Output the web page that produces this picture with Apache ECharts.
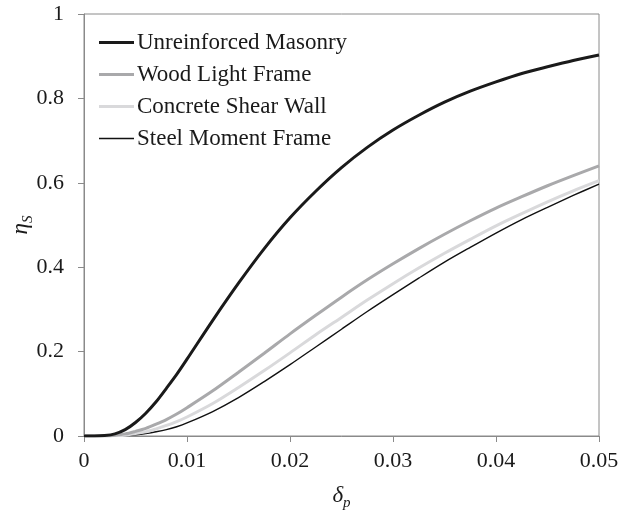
<!DOCTYPE html>
<html>
<head>
<meta charset="utf-8">
<script src="https://cdn.jsdelivr.net/npm/echarts@6/dist/echarts.min.js"></script>
<style>
  html, body { margin: 0; padding: 0; background: #fff; }
  #chart { width: 640px; height: 513px; }
</style>
</head>
<body>
<div id="chart"></div>
<script>
// Drift ratio samples (δp)
const drift = [0, 0.001, 0.002, 0.003, 0.004, 0.005, 0.006, 0.007, 0.008, 0.009, 0.01,
  0.0125, 0.015, 0.0175, 0.02, 0.0225, 0.025, 0.0275, 0.03, 0.0325, 0.035,
  0.0375, 0.04, 0.0425, 0.045, 0.0475, 0.05];

// ηS for each structural type
const unreinforcedMasonry = [0, 0, 0.001, 0.005, 0.015, 0.032, 0.054, 0.081, 0.113, 0.146, 0.182,
  0.274, 0.362, 0.444, 0.517, 0.580, 0.636, 0.684, 0.725, 0.760, 0.791,
  0.817, 0.839, 0.859, 0.875, 0.890, 0.903];
const woodLightFrame = [0, 0, 0.0004, 0.002, 0.005, 0.011, 0.018, 0.028, 0.039, 0.052, 0.067,
  0.107, 0.151, 0.196, 0.242, 0.286, 0.329, 0.370, 0.408, 0.444, 0.478,
  0.510, 0.540, 0.567, 0.593, 0.617, 0.640];
const concreteShearWall = [0, 0, 0.0001, 0.001, 0.002, 0.006, 0.010, 0.017, 0.025, 0.034, 0.045,
  0.077, 0.115, 0.155, 0.197, 0.240, 0.281, 0.322, 0.361, 0.398, 0.433,
  0.466, 0.498, 0.527, 0.555, 0.581, 0.605];
const steelMomentFrame = [0, 0, 0, 0.0003, 0.001, 0.003, 0.006, 0.010, 0.015, 0.022, 0.031,
  0.058, 0.091, 0.129, 0.169, 0.211, 0.253, 0.295, 0.335, 0.374, 0.412,
  0.447, 0.481, 0.513, 0.542, 0.570, 0.597];

const seriesNames = ['Unreinforced Masonry', 'Wood Light Frame', 'Concrete Shear Wall', 'Steel Moment Frame'];
const seriesValues = [unreinforcedMasonry, woodLightFrame, concreteShearWall, steelMomentFrame];
const seriesColors = ['#1a1a1a', '#a9a9ab', '#d9d9db', '#111111'];
const seriesWidths = [3, 3, 3, 1.4];

// Legend swatches: a bar whose thickness follows the line width
// (the path box is always 35 x 3, the painted band sits in its middle)
const thickSwatch = 'path://M0,0H35V3H0Z';
const thinSwatch = 'path://M0,0H35V0.01H0Z M0,0.8H35V2.2H0Z M0,2.99H35V3H0Z';

const serif = '"Liberation Serif", "DejaVu Serif", serif';
const axisGray = '#8a8a8a';

const chart = echarts.init(document.getElementById('chart'), null, { renderer: 'canvas' });

const nameRich = {
  a: { fontFamily: serif, fontStyle: 'italic', fontSize: 23, color: '#1a1a1a', lineHeight: 30, verticalAlign: 'middle' },
  b: { fontFamily: serif, fontStyle: 'italic', fontSize: 15, color: '#1a1a1a', lineHeight: 30, verticalAlign: 'bottom' }
};

chart.setOption({
  animation: false,
  backgroundColor: '#fff',
  grid: {
    left: 84, right: 41, top: 14, bottom: 77,
    outerBoundsMode: 'none',
    containLabel: false,
    show: true, borderColor: axisGray, borderWidth: 1
  },
  legend: {
    orient: 'vertical',
    left: 99, top: 31, padding: 0,
    itemWidth: 35, itemHeight: 3, itemGap: 9,
    data: seriesNames.map((n, i) => ({
      name: n,
      icon: seriesWidths[i] > 2 ? thickSwatch : thinSwatch,
      itemStyle: { color: seriesColors[i], borderWidth: 0 }
    })),
    textStyle: { fontFamily: serif, fontSize: 23, color: '#1a1a1a', lineHeight: 23, padding: [0, 0, 0, -2] }
  },
  xAxis: {
    type: 'value', min: 0, max: 0.05, interval: 0.01,
    name: '{a|δ}{b|p}', nameLocation: 'middle', nameGap: 45, nameMoveOverlap: false,
    nameTextStyle: { rich: nameRich },
    axisLine: { show: true, lineStyle: { color: axisGray, width: 1 } },
    axisTick: { show: true, length: 6, lineStyle: { color: axisGray } },
    axisLabel: { fontFamily: serif, fontSize: 22, color: '#1a1a1a', margin: 14 },
    splitLine: { show: false }
  },
  yAxis: {
    type: 'value', min: 0, max: 1, interval: 0.2,
    name: '{a|η}{b|S}', nameLocation: 'middle', nameGap: 48, nameRotate: 90, nameMoveOverlap: false,
    nameTextStyle: { rich: nameRich },
    axisLine: { show: true, lineStyle: { color: axisGray, width: 1 } },
    axisTick: { show: true, length: 6, lineStyle: { color: axisGray } },
    axisLabel: { fontFamily: serif, fontSize: 22, color: '#1a1a1a', margin: 20 },
    splitLine: { show: false }
  },
  series: seriesNames.map((name, i) => ({
    name: name,
    type: 'line',
    data: drift.map((x, k) => [x, seriesValues[i][k]]),
    showSymbol: false,
    symbol: 'none',
    smooth: 0.3,
    z: 10 - i,
    lineStyle: { color: seriesColors[i], width: seriesWidths[i] },
    itemStyle: { color: seriesColors[i] }
  }))
});
</script>
</body>
</html>
